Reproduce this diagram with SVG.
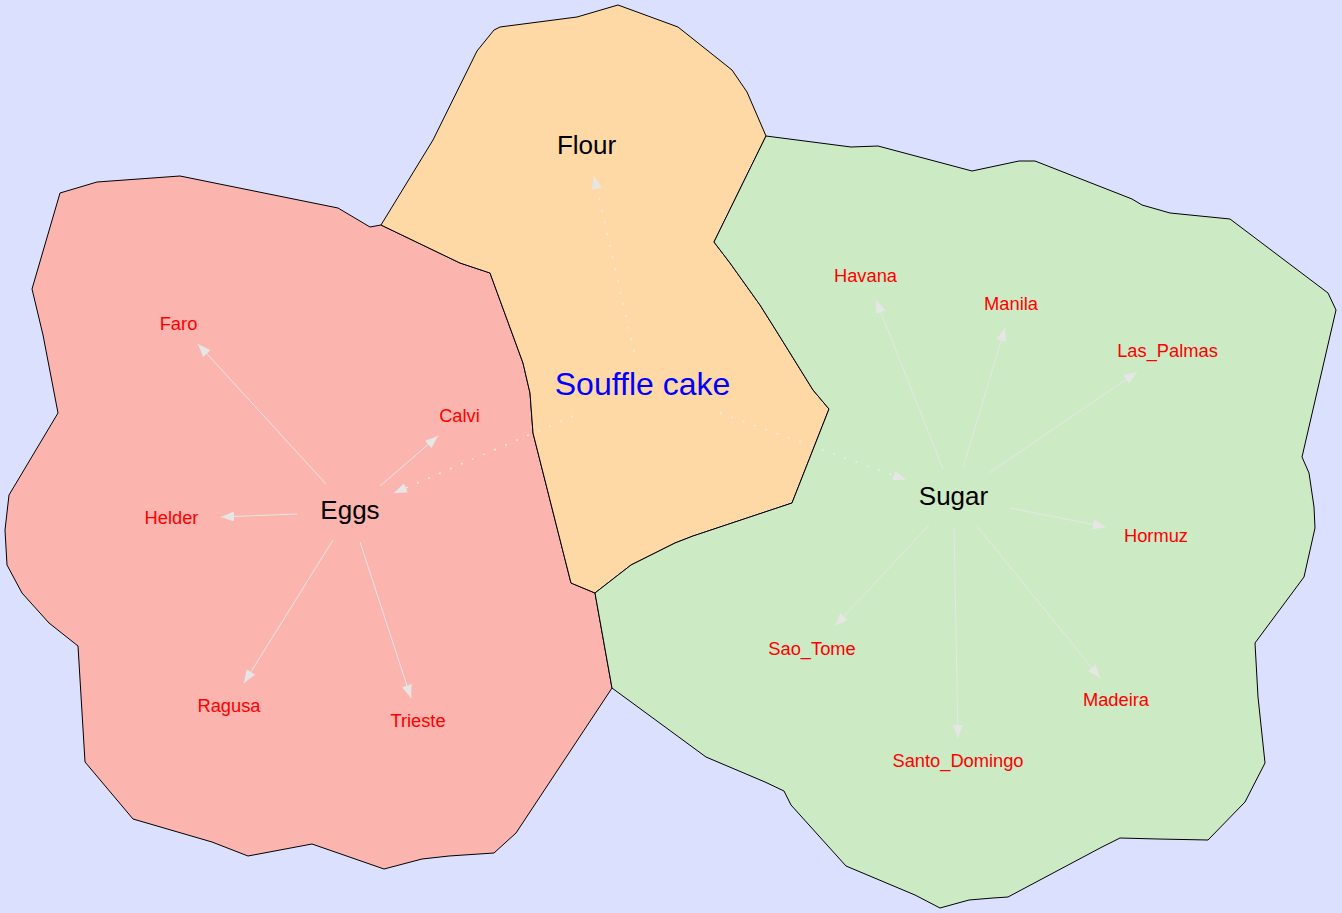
<svg xmlns="http://www.w3.org/2000/svg" width="1342" height="913" viewBox="0 0 1342 913">
  <style>
    .region { stroke: #000000; stroke-width: 1; stroke-linejoin: round; }
    .eggs { fill: #fbb4ae; }
    .flour { fill: #fed9a6; }
    .sugar { fill: #ccebc5; }
    .edge { stroke: #e6e6e6; stroke-width: 1; fill: none; marker-end: url(#head); }
    .dotted { stroke: #ececec; stroke-width: 1.4; stroke-dasharray: 2 10; }
    text { font-family: "Liberation Sans", Arial, Helvetica, sans-serif; text-anchor: middle; }
    .cluster { font-size: 26px; fill: #000000; }
    .leaf { font-size: 18.3px; fill: #ff0000; }
    .root { font-size: 32px; fill: #0000ff; }
  </style>
  <defs>
    <marker id="head" viewBox="0 0 13 10" refX="13" refY="5" markerWidth="13" markerHeight="10" markerUnits="userSpaceOnUse" orient="auto">
      <path d="M0,0 L13,5 L0,10 Z" fill="#e6e6e6"/>
    </marker>
  </defs>

  <rect x="0" y="0" width="1342" height="913" fill="#dae0fe"/>

  <!-- map regions -->
  <g id="region-eggs">
    <polygon class="region eggs" points="381,225 460,263 490,273 523,363 530,393 533,433 571,583 595,593 612,688 516,833 494,853 449,856 422,859 384,869 312,844 248,856 212,842 133,819 85,762 78,646 49,623 22,593 7,565 5,530 9,495 58,413 43,335 32,289 60,193 97,182 180,176 338,208 370,227"/>
  </g>
  <g id="region-flour">
    <polygon class="region flour" points="381,225 433,140 477,51 494,30 500,27 577,17 618,5 678,27 732,70 747,92 766,136 714,242 730,263 760,305 777,332 813,390 829,409 792,503 693,536 675,543 631,565 595,593 571,583 533,433 530,393 523,363 490,273 460,263"/>
  </g>
  <g id="region-sugar">
    <polygon class="region sugar" points="766,136 851,147 878,146 972,171 1019,161 1035,161 1132,199 1142,205 1170,213 1230,219 1328,293 1336,310 1302,457 1309,473 1314,507 1315,528 1304,577 1255,643 1258,697 1265,763 1245,802 1208,840 1158,839 1120,838 1102,847 1008,897 993,898 969,900 940,908 915,895 846,866 791,805 784,791 765,782 706,757 612,688 595,593 631,565 675,543 693,536 792,503 829,409 813,390 777,332 760,305 730,263 714,242"/>
  </g>

  <!-- connectors -->
  <g id="edges">
    <line class="edge dotted" x1="634" y1="352" x2="594" y2="176"/>
    <line class="edge dotted" x1="573" y1="416" x2="394" y2="493"/>
    <line class="edge dotted" x1="720" y1="413" x2="906" y2="480"/>

    <line class="edge" x1="326" y1="484" x2="198" y2="344"/>
    <line class="edge" x1="380" y1="486" x2="438" y2="436"/>
    <line class="edge" x1="297" y1="514" x2="221" y2="517"/>
    <line class="edge" x1="333" y1="540" x2="244" y2="683"/>
    <line class="edge" x1="360" y1="542" x2="411" y2="698"/>

    <line class="edge" x1="943" y1="469" x2="876" y2="300"/>
    <line class="edge" x1="963" y1="468" x2="1005" y2="328"/>
    <line class="edge" x1="989" y1="473" x2="1137" y2="372"/>
    <line class="edge" x1="1010" y1="508" x2="1106" y2="527"/>
    <line class="edge" x1="929" y1="525" x2="835" y2="626"/>
    <line class="edge" x1="954" y1="528" x2="958" y2="738"/>
    <line class="edge" x1="977" y1="526" x2="1100" y2="678"/>
  </g>

  <!-- nodes -->
  <g id="node-souffle-cake">
    <text class="root" x="642.5" y="395">Souffle cake</text>
  </g>
  <g id="node-flour">
    <text class="cluster" x="586.5" y="154">Flour</text>
  </g>
  <g id="node-eggs">
    <text class="cluster" x="350" y="519">Eggs</text>
  </g>
  <g id="node-sugar">
    <text class="cluster" x="953.5" y="505">Sugar</text>
  </g>
  <g id="node-faro"><text class="leaf" x="178.5" y="330">Faro</text></g>
  <g id="node-calvi"><text class="leaf" x="459.5" y="422">Calvi</text></g>
  <g id="node-helder"><text class="leaf" x="171.5" y="524">Helder</text></g>
  <g id="node-ragusa"><text class="leaf" x="229" y="712">Ragusa</text></g>
  <g id="node-trieste"><text class="leaf" x="418" y="727">Trieste</text></g>
  <g id="node-havana"><text class="leaf" x="865.5" y="282">Havana</text></g>
  <g id="node-manila"><text class="leaf" x="1011" y="310">Manila</text></g>
  <g id="node-las-palmas"><text class="leaf" x="1167.5" y="357">Las_Palmas</text></g>
  <g id="node-hormuz"><text class="leaf" x="1156" y="542">Hormuz</text></g>
  <g id="node-sao-tome"><text class="leaf" x="812" y="655">Sao_Tome</text></g>
  <g id="node-madeira"><text class="leaf" x="1116" y="706">Madeira</text></g>
  <g id="node-santo-domingo"><text class="leaf" x="958" y="767">Santo_Domingo</text></g>
</svg>
